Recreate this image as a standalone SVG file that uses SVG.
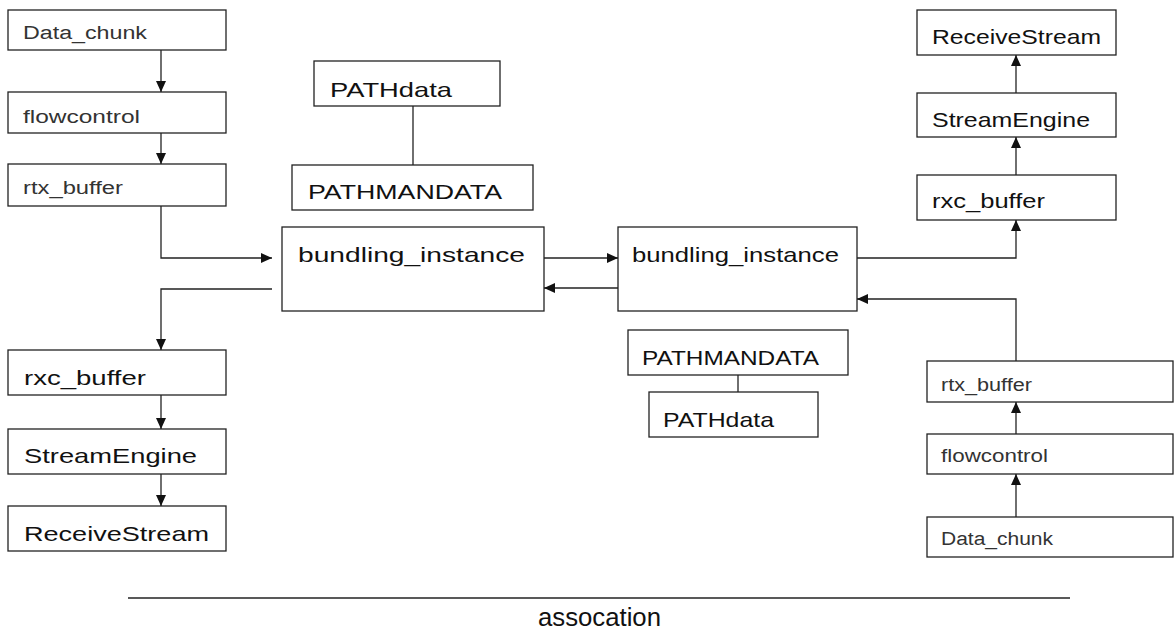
<svg xmlns="http://www.w3.org/2000/svg" width="1174" height="633" viewBox="0 0 1174 633">
  <style>
    .box { fill: #ffffff; stroke: #222222; stroke-width: 1.3; }
    .big { font-family: "Liberation Sans", Arial, sans-serif; font-size: 21px; fill: #111111; }
    .small { font-family: "Liberation Sans", Arial, sans-serif; font-size: 18px; fill: #333333; }
    .wire { fill: none; stroke: #222222; stroke-width: 1.3; }
    .arrow { fill: none; stroke: #222222; stroke-width: 1.3; marker-end: url(#head); }
  </style>
  <defs>
    <marker id="head" markerUnits="userSpaceOnUse" markerWidth="11" markerHeight="11" viewBox="0 0 11 11" refX="11" refY="5.5" orient="auto">
      <path d="M0,0.5 L11,5.5 L0,10.5 z" fill="#111111"/>
    </marker>
  </defs>
  <rect width="1174" height="633" fill="#ffffff"/>

  <!-- sending side, left -->
  <g id="left-data-chunk">
    <rect class="box" x="8" y="10" width="218" height="40"/>
    <text class="small" x="23" y="39" textLength="124" lengthAdjust="spacingAndGlyphs">Data_chunk</text>
  </g>
  <g id="left-flowcontrol">
    <rect class="box" x="8" y="92" width="218" height="41"/>
    <text class="small" x="23" y="123" textLength="117" lengthAdjust="spacingAndGlyphs">flowcontrol</text>
  </g>
  <g id="left-rtx-buffer">
    <rect class="box" x="8" y="164" width="218" height="42"/>
    <text class="small" x="23" y="194" textLength="100" lengthAdjust="spacingAndGlyphs">rtx_buffer</text>
  </g>

  <!-- receiving side, left -->
  <g id="left-rxc-buffer">
    <rect class="box" x="8" y="350" width="218" height="45"/>
    <text class="big" x="24" y="385" textLength="122" lengthAdjust="spacingAndGlyphs">rxc_buffer</text>
  </g>
  <g id="left-stream-engine">
    <rect class="box" x="8" y="429" width="218" height="45"/>
    <text class="big" x="24" y="463" textLength="173" lengthAdjust="spacingAndGlyphs">StreamEngine</text>
  </g>
  <g id="left-receive-stream">
    <rect class="box" x="8" y="506" width="218" height="45"/>
    <text class="big" x="24" y="541" textLength="185" lengthAdjust="spacingAndGlyphs">ReceiveStream</text>
  </g>

  <!-- path data, upper -->
  <g id="upper-pathdata">
    <rect class="box" x="314" y="61" width="186" height="45"/>
    <text class="big" x="330" y="97" textLength="122" lengthAdjust="spacingAndGlyphs">PATHdata</text>
  </g>
  <g id="upper-pathmandata">
    <rect class="box" x="292" y="165" width="241" height="45"/>
    <text class="big" x="308" y="199" textLength="194" lengthAdjust="spacingAndGlyphs">PATHMANDATA</text>
  </g>

  <!-- bundling instances -->
  <g id="bundling-left">
    <rect class="box" x="282" y="227" width="262" height="84"/>
    <text class="big" x="298" y="262" textLength="227" lengthAdjust="spacingAndGlyphs">bundling_instance</text>
  </g>
  <g id="bundling-right">
    <rect class="box" x="618" y="227" width="239" height="84"/>
    <text class="big" x="632" y="262" textLength="207" lengthAdjust="spacingAndGlyphs">bundling_instance</text>
  </g>

  <!-- path data, lower -->
  <g id="lower-pathmandata">
    <rect class="box" x="628" y="330" width="220" height="45"/>
    <text class="big" x="642" y="365" textLength="177" lengthAdjust="spacingAndGlyphs">PATHMANDATA</text>
  </g>
  <g id="lower-pathdata">
    <rect class="box" x="649" y="392" width="169" height="45"/>
    <text class="big" x="663" y="427" textLength="111" lengthAdjust="spacingAndGlyphs">PATHdata</text>
  </g>

  <!-- receiving side, right -->
  <g id="right-receive-stream">
    <rect class="box" x="917" y="10" width="199" height="45"/>
    <text class="big" x="932" y="44" textLength="169" lengthAdjust="spacingAndGlyphs">ReceiveStream</text>
  </g>
  <g id="right-stream-engine">
    <rect class="box" x="917" y="93" width="199" height="44"/>
    <text class="big" x="932" y="127" textLength="158" lengthAdjust="spacingAndGlyphs">StreamEngine</text>
  </g>
  <g id="right-rxc-buffer">
    <rect class="box" x="917" y="175" width="199" height="45"/>
    <text class="big" x="932" y="208" textLength="113" lengthAdjust="spacingAndGlyphs">rxc_buffer</text>
  </g>

  <!-- sending side, right -->
  <g id="right-rtx-buffer">
    <rect class="box" x="927" y="361" width="246" height="41"/>
    <text class="small" x="941" y="391" textLength="91" lengthAdjust="spacingAndGlyphs">rtx_buffer</text>
  </g>
  <g id="right-flowcontrol">
    <rect class="box" x="927" y="434" width="246" height="40"/>
    <text class="small" x="941" y="462" textLength="107" lengthAdjust="spacingAndGlyphs">flowcontrol</text>
  </g>
  <g id="right-data-chunk">
    <rect class="box" x="927" y="517" width="246" height="40"/>
    <text class="small" x="941" y="545" textLength="112" lengthAdjust="spacingAndGlyphs">Data_chunk</text>
  </g>

  <!-- association -->
  <g id="association">
    <line x1="128" y1="598" x2="1070" y2="598" stroke="#222222" stroke-width="1.5"/>
    <text x="538" y="626" font-family="'Liberation Sans', Arial, sans-serif" font-size="25" fill="#111111" textLength="123" lengthAdjust="spacingAndGlyphs">assocation</text>
  </g>

  <g id="connectors">
    <!-- left send chain -->
    <path class="arrow" d="M161,50 V92"/>
    <path class="arrow" d="M161,133 V164"/>
    <path class="arrow" d="M161,206 V258 H272"/>
    <!-- left receive chain -->
    <path class="arrow" d="M272,289 H161 V350"/>
    <path class="arrow" d="M161,395 V429"/>
    <path class="arrow" d="M161,474 V506"/>
    <!-- between bundling instances -->
    <path class="arrow" d="M544,258 H618"/>
    <path class="arrow" d="M618,288 H544"/>
    <!-- right receive chain -->
    <path class="arrow" d="M857,258 H1016 V220"/>
    <path class="arrow" d="M1016,175 V137"/>
    <path class="arrow" d="M1016,93 V55"/>
    <!-- right send chain -->
    <path class="arrow" d="M1016,517 V474"/>
    <path class="arrow" d="M1016,434 V402"/>
    <path class="arrow" d="M1016,361 V299 H857"/>
    <!-- path data links -->
    <path class="wire" d="M413,106 V165"/>
    <path class="wire" d="M738,375 V392"/>
  </g>
</svg>
